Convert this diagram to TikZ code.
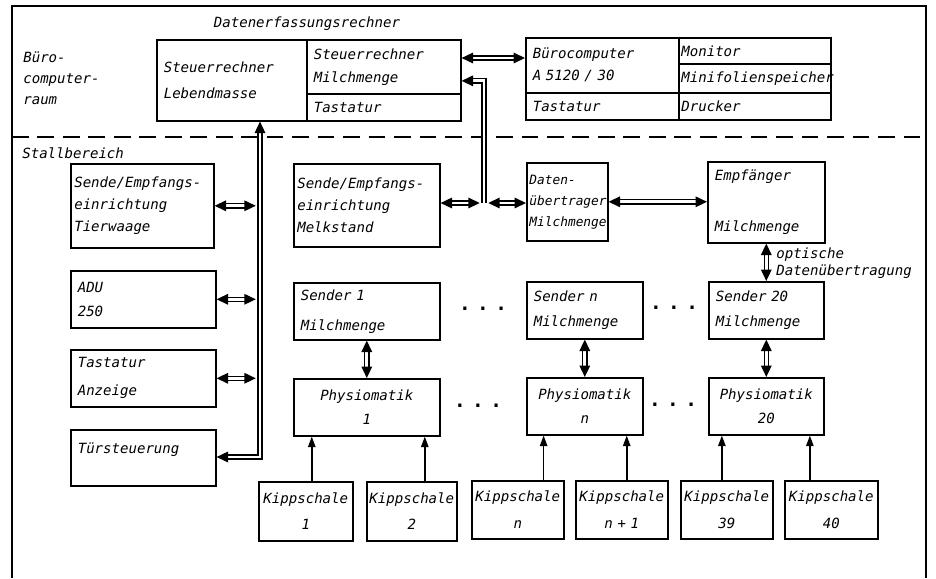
\documentclass[tikz,border=0pt]{standalone}
\usepackage{fontspec}
\newfontfamily\lettering{DejaVu Sans Mono}
\usetikzlibrary{arrows.meta}
\tikzset{
 dv box/.style={draw,line width=0.9pt,rectangle,anchor=north west,inner sep=0pt,
                align=left,font=\lettering\itshape\fontsize{8}{10}\selectfont},
 dv size/.style 2 args={minimum width=#1*0.02cm,minimum height=#2*0.02cm,
                text width=#1*0.02cm-8pt},
 dv label/.style={font=\lettering\itshape\fontsize{8}{10}\selectfont,inner sep=0pt},
 dv dots/.style={font=\lettering\bfseries\fontsize{11}{12}\selectfont,inner sep=0pt},
 dv bus/.style={double,double distance=1.6pt,line width=0.75pt,
                >={Triangle[length=6.5pt,width=6pt]}},
 dv signal/.style={line width=0.9pt,-{Triangle[length=6pt,width=4.2pt]}}
}
\begin{document}
\begin{tikzpicture}[x=0.02cm,y=-0.02cm]
 \useasboundingbox (0,0) rectangle (936,578);
 \draw[line width=1pt] (12,578) -- (12,6) -- (926,6) -- (926,578);
 \draw[line width=0.9pt,dash pattern=on 9.5pt off 5pt] (12,137) -- (926,137);

 \node[dv label] (dfr) at (307,24) {Datenerfassungsrechner};
 \node[dv label,anchor=west,align=left] (bcr) at (23,78) {Büro-\\[2pt]computer-\\[2pt]raum};
 \node[dv label,anchor=west] (stb) at (22,153) {Stallbereich};
 \node[dv label,anchor=west,align=left] (opt) at (776,263) {optische\\Datenübertragung};

 % Buero
 \node[dv box,dv size={150}{81}] (slm) at (156,39) {Steuerrechner\\[5pt]Lebendmasse};
 \node[dv box,dv size={154}{54}] (smm) at (306,39) {Steuerrechner\\[3pt]Milchmenge};
 \node[dv box,dv size={154}{27}] (tst) at (306,93) {Tastatur};
 \node[dv box,dv size={153}{55}] (bco) at (525,37) {Bürocomputer\\[2.5pt]A 5120 / 30};
 \node[dv box,dv size={153}{27}] (bct) at (525,92) {Tastatur};
 \node[dv box,dv size={152}{26},text width=152*0.02cm-3pt] (mon) at (678,37) {Monitor};
 \node[dv box,dv size={152}{29},text width=152*0.02cm-3pt] (msp) at (678,63) {Minifolienspeicher};
 \node[dv box,dv size={152}{27},text width=152*0.02cm-3pt] (drk) at (678,92) {Drucker};

 % Stall
 \node[dv box,dv size={143}{84},text width=143*0.02cm-4pt] (tier) at (70,163) {Sende/Empfangs-\\[2.5pt]einrichtung\\[2.5pt]Tierwaage};
 \node[dv box,dv size={145}{57}] (adu) at (70,270) {ADU\\[4pt]250};
 \node[dv box,dv size={145}{57}] (anz) at (70,349) {Tastatur\\[6pt]Anzeige};
 \node[dv box,dv size={145}{56}] (tuer) at (70,429) {Türsteuerung\\[1.5pt]\mbox{}};
 \node[dv box,dv size={146}{83},text width=146*0.02cm-4pt] (melk) at (293,163) {Sende/Empfangs-\\[2.5pt]einrichtung\\[2.5pt]Melkstand};
 \node[dv box,dv size={81}{78},text width=81*0.02cm-3pt,
       font=\lettering\itshape\fontsize{7.3}{9}\selectfont] (dat) at (526,162) {Daten-\\[3pt]übertrager\\[3pt]Milchmenge};
 \node[dv box,dv size={117}{81}] (emp) at (707,161) {Empfänger\\[19pt]Milchmenge};

 \node[dv box,dv size={146}{57}] (s1) at (293,282) {Sender 1\\[7pt]Milchmenge};
 \node[dv box,dv size={116}{57}] (sn) at (526,281) {Sender n\\[4.5pt]Milchmenge};
 \node[dv box,dv size={115}{57}] (s20) at (708,281) {Sender 20\\[4.5pt]Milchmenge};
 \node[dv box,dv size={146}{57},align=center] (p1) at (293,378) {Physiomatik\\[4pt]1};
 \node[dv box,dv size={116}{57},align=center] (pn) at (526,377) {Physiomatik\\[4pt]n};
 \node[dv box,dv size={115}{57},align=center] (p20) at (708,377) {Physiomatik\\[4pt]20};

 \node[dv box,dv size={94}{59},align=center,text width=50pt] (k1) at (258,481) {Kippschale\\[5pt]1};
 \node[dv box,dv size={90}{59},align=center,text width=50pt] (k2) at (366,481) {Kippschale\\[5pt]2};
 \node[dv box,dv size={92}{58},align=center,text width=50pt] (kn) at (471,480) {Kippschale\\[5pt]n};
 \node[dv box,dv size={92}{58},align=center,text width=50pt] (kn1) at (575,480) {Kippschale\\[5pt]n + 1};
 \node[dv box,dv size={92}{58},align=center,text width=50pt] (k39) at (680,480) {Kippschale\\[5pt]39};
 \node[dv box,dv size={93}{58},align=center,text width=50pt] (k40) at (784,480) {Kippschale\\[5pt]40};

 \node[dv dots] (ds1) at (483,309) {.\hspace{3.7pt}.\hspace{3.7pt}.};
 \node[dv dots] (ds2) at (674,308) {.\hspace{3.7pt}.\hspace{3.7pt}.};
 \node[dv dots] (dp1) at (478,406) {.\hspace{3.7pt}.\hspace{3.7pt}.};
 \node[dv dots] (dp2) at (673,405) {.\hspace{3.7pt}.\hspace{3.7pt}.};

 % Leitungen
 \draw[dv bus,<->] ([yshift=5pt]smm.east) -- ([yshift=5pt]smm.east -| bco.west);
 \coordinate (mj) at (484,203);
 \draw[dv bus,<->,shorten >=2.4pt] (melk.east |- mj) -- (mj);
 \draw[dv bus,<->,shorten <=2.4pt] (mj) -- (mj -| dat.west);
 \draw[dv bus,<-] ([yshift=-8pt]smm.east) -| (mj);
 \coordinate (lj) at (260,457);
 \draw[dv bus,<->] (tuer.east |- lj) -- (lj) -- (lj |- slm.south);
 \foreach \bx in {tier,adu,anz}
   \draw[dv bus,<->,shorten >=2.4pt] (\bx.east) -- (\bx.east -| lj);
 \draw[dv bus,<->] (dat.east) -- (dat.east -| emp.west);
 \draw[dv bus,<->] (emp.south) -- (s20.north);
 \foreach \s/\p in {s1/p1,sn/pn,s20/p20}
   \draw[dv bus,<->] (\s.south) -- (\p.north);
 \foreach \k/\p/\dx in {k1/p1/3.4pt,k2/p1/7.4pt,kn/pn/14.7pt,kn1/pn/2.8pt,k39/p20/-2.8pt,k40/p20/-12.2pt}
   \draw[dv signal] ([xshift=\dx]\k.north) -- ([xshift=\dx]\k.north |- \p.south);
\end{tikzpicture}
\end{document}
